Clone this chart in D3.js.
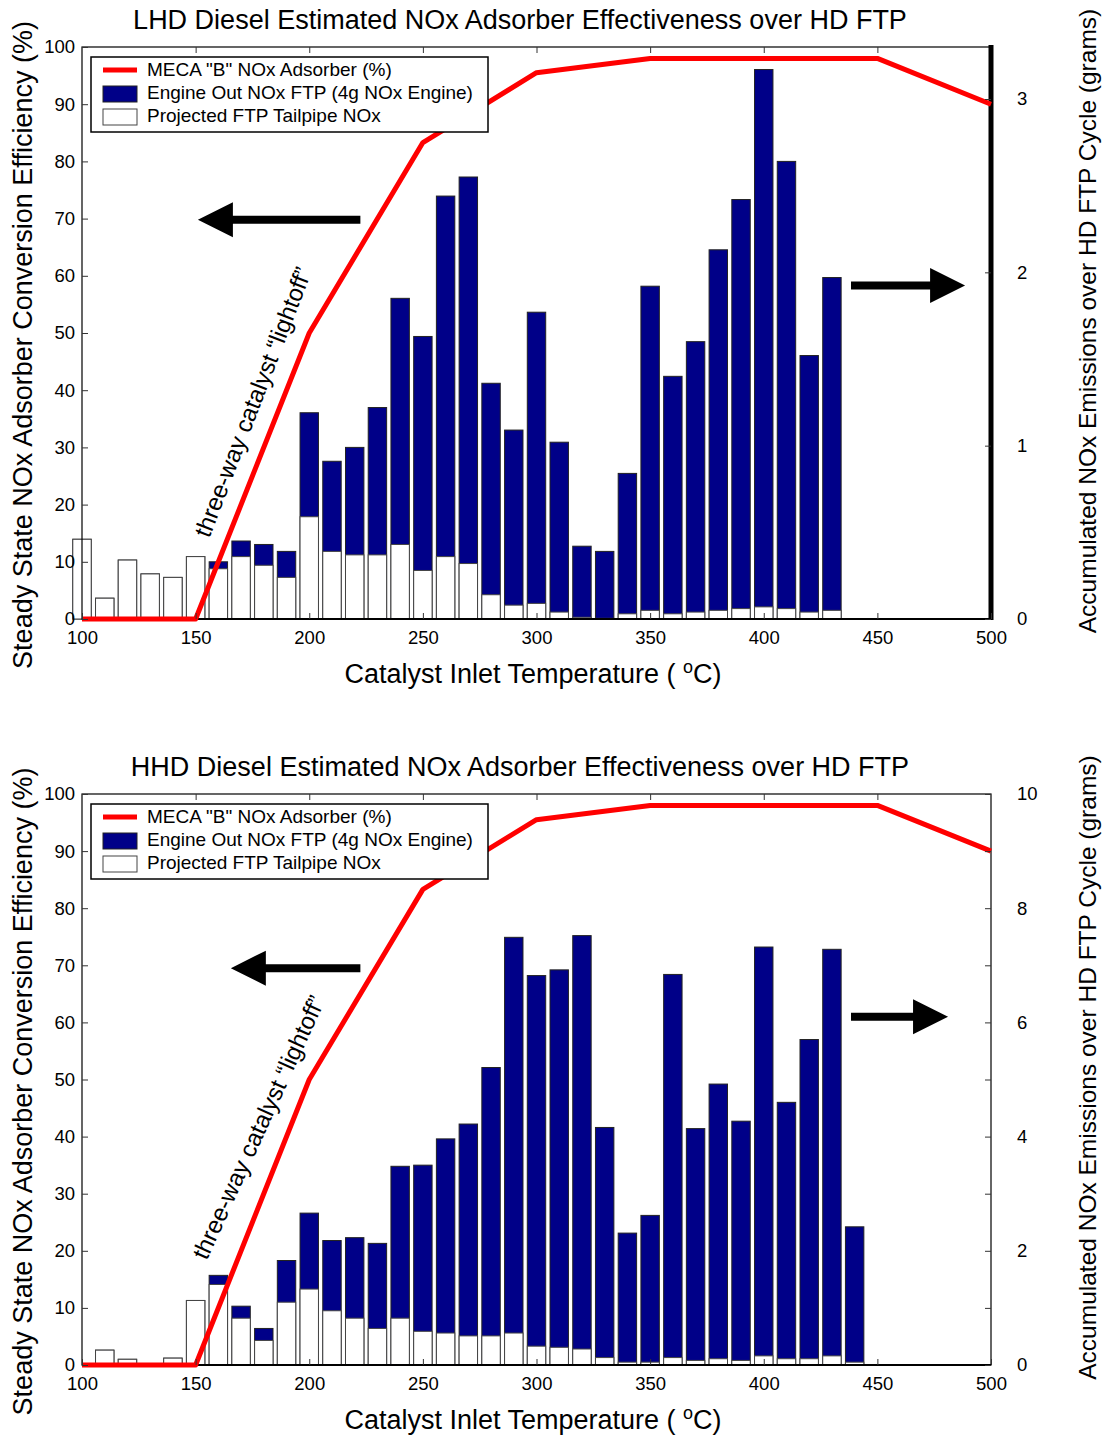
<!DOCTYPE html>
<html>
<head>
<meta charset="utf-8">
<script src="https://cdn.jsdelivr.net/npm/d3@7"></script>
<style>
  body { margin: 0; background: #fff; }
  svg { display: block; font-family: "Liberation Sans", Arial, sans-serif; }
</style>
</head>
<body>
<svg id="chart" width="1107" height="1437"></svg>
<script>
// catalyst inlet temperature bins (deg C)
const temps = d3.range(100, 501, 10);

// MECA "B" NOx adsorber efficiency curve (%)
const adsorberTemps = [100, 150, 200, 250, 300, 350, 450, 500];
const adsorberEff = [0, 0, 50, 83.3, 95.5, 98, 98, 90];

// LHD: engine out / tailpipe NOx per bin (grams)
const lhdEngineOut = [0.46, 0.12, 0.34, 0.26, 0.24, 0.36, 0.33, 0.45, 0.43, 0.39,
  1.19, 0.91, 0.99, 1.22, 1.85, 1.63, 2.44, 2.55, 1.36, 1.09,
  1.77, 1.02, 0.42, 0.39, 0.84, 1.92, 1.40, 1.60, 2.13, 2.42,
  3.17, 2.64, 1.52, 1.97, 0, 0, 0, 0, 0, 0, 0];
const lhdTailpipe = [0.46, 0.12, 0.34, 0.26, 0.24, 0.36, 0.29, 0.36, 0.31, 0.24,
  0.59, 0.39, 0.37, 0.37, 0.43, 0.28, 0.36, 0.32, 0.14, 0.08,
  0.09, 0.04, 0.01, 0.004, 0.03, 0.05, 0.03, 0.04, 0.05, 0.06,
  0.07, 0.06, 0.04, 0.05, 0, 0, 0, 0, 0, 0, 0];

// HHD: engine out / tailpipe NOx per bin (grams)
const hhdEngineOut = [0, 0.26, 0.10, 0, 0.12, 1.13, 1.57, 1.03, 0.64, 1.83,
  2.66, 2.18, 2.23, 2.13, 3.48, 3.50, 3.96, 4.22, 5.21, 7.49,
  6.82, 6.92, 7.52, 4.16, 2.31, 2.62, 6.84, 4.14, 4.92, 4.27,
  7.32, 4.60, 5.70, 7.28, 2.42, 0, 0, 0, 0, 0, 0];
const hhdTailpipe = [0, 0.26, 0.10, 0, 0.12, 1.13, 1.41, 0.82, 0.43, 1.10,
  1.33, 0.95, 0.82, 0.64, 0.82, 0.59, 0.56, 0.51, 0.51, 0.56,
  0.33, 0.31, 0.28, 0.13, 0.05, 0.05, 0.13, 0.08, 0.11, 0.08,
  0.16, 0.11, 0.11, 0.16, 0.05, 0, 0, 0, 0, 0, 0];

const xTicks = [100, 150, 200, 250, 300, 350, 400, 450, 500];
const leftTicks = d3.range(0, 101, 10);
const lhdRightTicks = [0, 1, 2, 3];
const hhdRightTicks = d3.range(0, 11, 1);

const legendLabels = ['MECA "B" NOx Adsorber (%)', 'Engine Out NOx FTP (4g NOx Engine)', 'Projected FTP Tailpipe NOx'];

const charts = [
  {
    title: 'LHD Diesel Estimated NOx Adsorber Effectiveness over HD FTP',
    top: 47, bottom: 619,
    engineOut: lhdEngineOut, tailpipe: lhdTailpipe,
    rightMax: 3.3, rightTicks: lhdRightTicks, rightLabel: (d) => d,
    thickRight: true,
    leftArrow: { from: [222.5, 69.8], to: [151, 69.8] },
    rightArrow: { from: [438.4, 58.3], to: [488.6, 58.3] },
    note: { at: [176, 37.8], angle: -69 }
  },
  {
    title: 'HHD Diesel Estimated NOx Adsorber Effectiveness over HD FTP',
    top: 794, bottom: 1365,
    engineOut: hhdEngineOut, tailpipe: hhdTailpipe,
    rightMax: 10, rightTicks: hhdRightTicks, rightLabel: (d) => (d % 2 === 0 ? d : ''),
    thickRight: false,
    leftArrow: { from: [222.5, 69.5], to: [165.5, 69.5] },
    rightArrow: { from: [438.4, 61], to: [481.1, 61] },
    note: { at: [178.5, 41.5], angle: -65.5 }
  }
];

const margin = { left: 82, right: 991 };
const svg = d3.select('#chart');

function arrowPath(x0, x1, y) {
  // shaft plus triangular head, pointing from x0 towards x1
  const dir = Math.sign(x1 - x0);
  const headLen = 35, headHalf = 17.5, shaftHalf = 4;
  const xb = x1 - dir * headLen;
  return `M${x0},${y - shaftHalf}L${xb},${y - shaftHalf}L${xb},${y - headHalf}L${x1},${y}` +
    `L${xb},${y + headHalf}L${xb},${y + shaftHalf}L${x0},${y + shaftHalf}Z`;
}

function drawChart(c) {
  const g = svg.append('g');

  const xScale = d3.scaleLinear().domain([100, 500]).range([margin.left, margin.right]);
  const yLeft = d3.scaleLinear().domain([0, 100]).range([c.bottom, c.top]);
  const yRight = d3.scaleLinear().domain([0, c.rightMax]).range([c.bottom, c.top]);

  const barW = xScale(108.1) - xScale(100);

  // engine out bars (navy)
  g.selectAll('.bar_out')
    .data(temps)
    .enter()
    .append('rect')
    .attr('class', 'bar_out')
    .attr('x', (d) => xScale(d) - barW / 2)
    .attr('width', barW)
    .attr('y', (d, i) => yRight(c.engineOut[i]))
    .attr('height', (d, i) => yRight(0) - yRight(c.engineOut[i]))
    .attr('fill', '#000088')
    .attr('stroke', '#222')
    .attr('stroke-width', 1);

  // tailpipe bars (white)
  g.selectAll('.bar_tp')
    .data(temps)
    .enter()
    .append('rect')
    .attr('class', 'bar_tp')
    .attr('x', (d) => xScale(d) - barW / 2)
    .attr('width', barW)
    .attr('y', (d, i) => yRight(c.tailpipe[i]))
    .attr('height', (d, i) => yRight(0) - yRight(c.tailpipe[i]))
    .attr('fill', '#fff')
    .attr('stroke', '#444')
    .attr('stroke-width', 1);

  // plot frame
  g.append('rect')
    .attr('x', margin.left)
    .attr('y', c.top)
    .attr('width', margin.right - margin.left)
    .attr('height', c.bottom - c.top)
    .attr('fill', 'none')
    .attr('stroke', '#000')
    .attr('stroke-width', 1.2);

  g.append('line')
    .attr('x1', margin.left).attr('x2', margin.right)
    .attr('y1', c.bottom).attr('y2', c.bottom)
    .attr('stroke', '#000')
    .attr('stroke-width', 2);

  if (c.thickRight) {
    g.append('line')
      .attr('x1', margin.right).attr('x2', margin.right)
      .attr('y1', c.top - 2).attr('y2', c.bottom + 1)
      .attr('stroke', '#000')
      .attr('stroke-width', 5);
  }

  // adsorber efficiency line
  const line = d3.line()
    .x((d, i) => xScale(adsorberTemps[i]))
    .y((d) => yLeft(d));

  g.append('path')
    .datum(adsorberEff)
    .attr('d', line)
    .attr('fill', 'none')
    .attr('stroke', '#ff0000')
    .attr('stroke-width', 5)
    .attr('stroke-linejoin', 'round');

  // axes
  const xAxis = d3.axisBottom(xScale).tickValues(xTicks).tickSize(-6).tickPadding(12).tickSizeOuter(0);
  const xTop = d3.axisTop(xScale).tickValues(xTicks.slice(1, -1)).tickSize(-6).tickFormat('').tickSizeOuter(0);
  const leftAxis = d3.axisLeft(yLeft).tickValues(leftTicks).tickSize(-6).tickPadding(7).tickSizeOuter(0);
  const rightAxis = d3.axisRight(yRight).tickValues(c.rightTicks).tickSize(-6).tickPadding(26)
    .tickFormat(c.rightLabel).tickSizeOuter(0);

  const gx = g.append('g').attr('transform', `translate(0,${c.bottom})`).call(xAxis);
  const gxt = g.append('g').attr('transform', `translate(0,${c.top})`).call(xTop);
  const gl = g.append('g').attr('transform', `translate(${margin.left},0)`).call(leftAxis);
  const gr = g.append('g').attr('transform', `translate(${margin.right},0)`).call(rightAxis);

  [gx, gxt, gl, gr].forEach((a) => {
    a.select('.domain').remove();
    a.selectAll('line').attr('stroke', '#333');
    a.selectAll('text')
      .attr('font-family', '"Liberation Sans", Arial, sans-serif')
      .attr('font-size', 18.5)
      .attr('fill', '#000');
  });
  gx.selectAll('text').attr('dy', '0.71em');

  // arrows
  [c.leftArrow, c.rightArrow].forEach((a) => {
    g.append('path')
      .attr('d', arrowPath(xScale(a.from[0]), xScale(a.to[0]), yLeft(a.from[1])))
      .attr('fill', '#000');
  });

  // lightoff note
  g.append('text')
    .attr('transform', `translate(${xScale(c.note.at[0])},${yLeft(c.note.at[1])}) rotate(${c.note.angle})`)
    .attr('text-anchor', 'middle')
    .attr('dominant-baseline', 'middle')
    .attr('font-size', 24)
    .text('three-way catalyst \u201Clightoff\u201D');

  // legend
  const lx = 91, ly = c.top + 10;
  const lg = g.append('g');
  lg.append('rect')
    .attr('x', lx).attr('y', ly)
    .attr('width', 397).attr('height', 75)
    .attr('fill', '#fff')
    .attr('stroke', '#000')
    .attr('stroke-width', 1.5);
  lg.append('line')
    .attr('x1', lx + 12).attr('x2', lx + 46)
    .attr('y1', ly + 13).attr('y2', ly + 13)
    .attr('stroke', '#ff0000')
    .attr('stroke-width', 5);
  lg.append('rect')
    .attr('x', lx + 12).attr('y', ly + 29)
    .attr('width', 34).attr('height', 16)
    .attr('fill', '#000088').attr('stroke', '#222');
  lg.append('rect')
    .attr('x', lx + 12).attr('y', ly + 52)
    .attr('width', 34).attr('height', 16)
    .attr('fill', '#fff').attr('stroke', '#444');
  lg.selectAll('.legend_text')
    .data(legendLabels)
    .enter()
    .append('text')
    .attr('class', 'legend_text')
    .attr('x', lx + 56)
    .attr('y', (d, i) => ly + 14 + i * 23)
    .attr('dominant-baseline', 'middle')
    .attr('font-size', 19)
    .text((d) => d);

  // title
  g.append('text')
    .attr('x', 520)
    .attr('y', c.top - 18)
    .attr('text-anchor', 'middle')
    .attr('font-size', 27)
    .text(c.title);

  // x label
  const xl = g.append('text')
    .attr('x', 533)
    .attr('y', c.bottom + 64)
    .attr('text-anchor', 'middle')
    .attr('font-size', 27)
    .text('Catalyst Inlet Temperature ( ');
  xl.append('tspan').attr('dy', -10).attr('font-size', 18).text('o');
  xl.append('tspan').attr('dy', 10).text('C)');

  // left y label
  g.append('text')
    .attr('transform', `translate(32,${(c.top + c.bottom) / 2 + 12}) rotate(-90)`)
    .attr('text-anchor', 'middle')
    .attr('font-size', 27)
    .text('Steady State NOx Adsorber Conversion Efficiency (%)');

  // right y label
  g.append('text')
    .attr('transform', `translate(1096,${(c.top + c.bottom) / 2 - 12}) rotate(-90)`)
    .attr('text-anchor', 'middle')
    .attr('font-size', 24.5)
    .text('Accumulated NOx Emissions over HD FTP Cycle (grams)');
}

charts.forEach(drawChart);
</script>
</body>
</html>
